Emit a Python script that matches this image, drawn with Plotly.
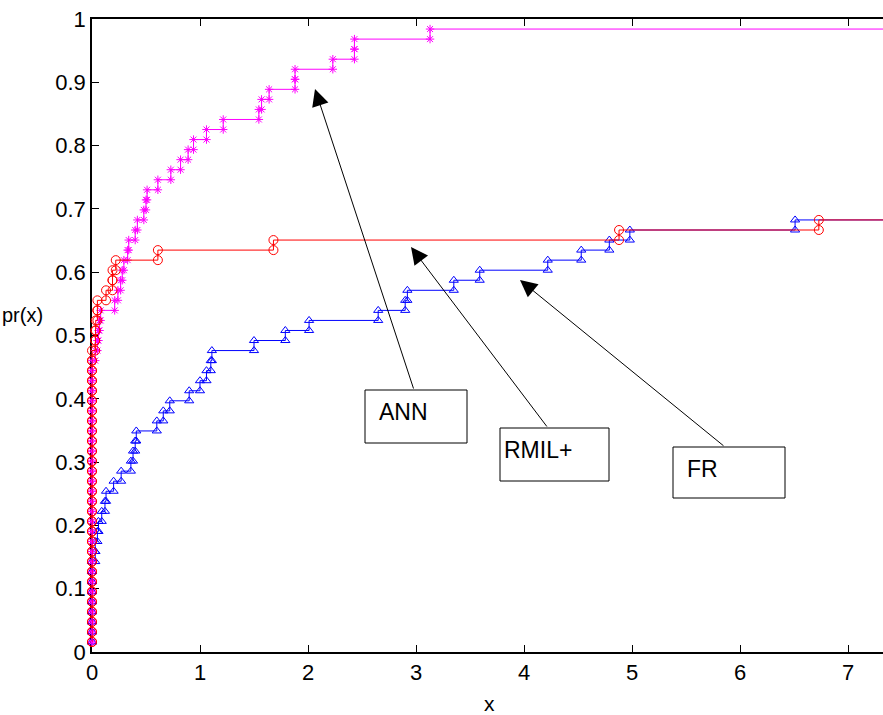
import plotly.graph_objects as go

# ---------------- data (performance-profile ratios, one per solved problem) -------------
n_problems = 63
fail_ratio = 12.0  # ratio given to unsolved problems (lies beyond the visible axis)

ann_ratios = [0.0] * 29 + [
    0.03, 0.05, 0.06, 0.07, 0.08, 0.21, 0.24, 0.265, 0.28, 0.295,
    0.33, 0.34, 0.40, 0.42, 0.48, 0.50, 0.51, 0.61, 0.73, 0.82,
    0.89, 0.94, 1.06, 1.215, 1.545, 1.57, 1.64, 1.88, 1.88, 2.23,
    2.43, 2.43, 3.13]

rmil_ratios = [0.0] * 30 + [
    0.03, 0.03, 0.035, 0.05, 0.05, 0.13, 0.19, 0.19, 0.22, 0.61,
    1.68, 4.88, 6.73]

fr_ratios = [0.0] * 9 + [
    0.03, 0.03, 0.05, 0.06, 0.09, 0.12, 0.13, 0.20, 0.27, 0.36,
    0.38, 0.40, 0.41, 0.60, 0.66, 0.72, 0.90, 1.00, 1.06, 1.10,
    1.11, 1.50, 1.79, 2.01, 2.65, 2.90, 2.92, 3.35, 3.59, 4.22,
    4.53, 4.79, 4.98, 6.51]

x_ticks = [0, 1, 2, 3, 4, 5, 6, 7]
y_ticks = [0, 0.1, 0.2, 0.3, 0.4, 0.5, 0.6, 0.7, 0.8, 0.9, 1.0]
y_tick_labels = ["0", "0.1", "0.2", "0.3", "0.4", "0.5", "0.6", "0.7", "0.8", "0.9", "1"]

labels = ["ANN", "RMIL+", "FR"]

# ---------------- helpers ----------------
FONT = "Liberation Sans, Arial, Helvetica, sans-serif"
W, H = 883, 715
ML, MR, MT, MB = 92, 0, 19, 63
PW, PH = W - ML - MR, H - MT - MB


def stairs(ratios):
    r = sorted(ratios) + [fail_ratio] * (n_problems - len(ratios))
    xs, ys = [], []
    for i, v in enumerate(r):
        if i > 0:
            xs.append(v)
            ys.append(i / n_problems)
        xs.append(v)
        ys.append((i + 1) / n_problems)
    return xs, ys


def px(xp, yp):
    return (xp - ML) / PW, (MT + PH - yp) / PH


fig = go.Figure()

series = [
    (fr_ratios, "#0000FF", "triangle-up-open", 8, "FR"),
    (ann_ratios, "#FF00FF", "asterisk-open", 7, "ANN"),
    (rmil_ratios, "#FF0000", "circle-open", 9, "RMIL+"),
]
for ratios, col, sym, size, name in series:
    xs, ys = stairs(ratios)
    fig.add_trace(go.Scatter(
        x=xs, y=ys, mode="lines+markers", name=name,
        line=dict(color=col, width=1),
        marker=dict(symbol=sym, size=size, color=col, line=dict(color=col, width=1)),
        cliponaxis=False,
    ))

# ---------------- annotations: boxed labels with arrows ----------------
boxes = {
    "ANN": (365, 390, 467, 443),
    "RMIL+": (500, 428, 609, 481),
    "FR": (673, 447, 785, 498),
}
text_pos = {"ANN": (377, 412), "RMIL+": (502, 450), "FR": (685, 469)}
arrows = {
    "ANN": ((315, 89), (414, 390)),
    "RMIL+": ((411, 247), (548, 428)),
    "FR": ((520, 280), (725, 447)),
}

shapes = []
annotations = []
for lab in labels:
    x0, y0, x1, y1 = boxes[lab]
    p0 = px(x0, y0)
    p1 = px(x1, y1)
    shapes.append(dict(type="rect", xref="paper", yref="paper",
                       x0=p0[0], y0=p1[1], x1=p1[0], y1=p0[1],
                       line=dict(color="black", width=1), fillcolor="white", layer="above"))
    tx, ty = px(*text_pos[lab])
    annotations.append(dict(xref="paper", yref="paper", x=tx, y=ty, text=lab,
                            showarrow=False, xanchor="left", yanchor="middle",
                            font=dict(family=FONT, size=23, color="black")))
    (hx, hy), (tlx, tly) = arrows[lab]
    hpx, hpy = px(hx, hy)
    annotations.append(dict(xref="paper", yref="paper", x=hpx, y=hpy, text="",
                            showarrow=True, axref="pixel", ayref="pixel",
                            ax=tlx - hx, ay=tly - hy,
                            arrowhead=2, arrowsize=3.4, arrowwidth=1,
                            arrowcolor="black", standoff=0, startstandoff=0))

# axis titles
xt = px(489, 703)
annotations.append(dict(xref="paper", yref="paper", x=xt[0], y=xt[1], text="x",
                        showarrow=False, xanchor="center", yanchor="middle",
                        font=dict(family=FONT, size=21, color="black")))
yt = px(0, 315)
annotations.append(dict(xref="paper", yref="paper", x=yt[0], y=yt[1], text="pr(x)",
                        showarrow=False, xanchor="left", yanchor="middle",
                        font=dict(family=FONT, size=20, color="black")))

fig.update_layout(
    width=W, height=H,
    margin=dict(l=ML, r=MR, t=MT, b=MB, pad=0),
    plot_bgcolor="white", paper_bgcolor="white",
    showlegend=False,
    font=dict(family=FONT, size=21, color="black"),
    shapes=shapes, annotations=annotations,
)
fig.update_xaxes(
    range=[0, PW / 108.0], tickvals=x_ticks, ticktext=[str(t) for t in x_ticks],
    ticks="inside", ticklen=7, tickwidth=1, tickcolor="black",
    showline=True, linecolor="black", linewidth=1.5, mirror="ticks",
    showgrid=False, zeroline=False, layer="below traces",
    tickfont=dict(family=FONT, size=22, color="black"),
)
fig.update_yaxes(
    range=[0, 1], tickvals=y_ticks, ticktext=y_tick_labels,
    ticks="inside", ticklen=7, tickwidth=1, tickcolor="black",
    showline=True, linecolor="black", linewidth=1.5, mirror=False,
    showgrid=False, zeroline=False, layer="below traces",
    tickfont=dict(family=FONT, size=22, color="black"),
)

fig.write_html(
    "out.html",
    config={"displayModeBar": False},
    post_script="document.body.style.margin='0px';document.body.style.padding='0px';"
                "document.documentElement.style.overflow='hidden';",
)
